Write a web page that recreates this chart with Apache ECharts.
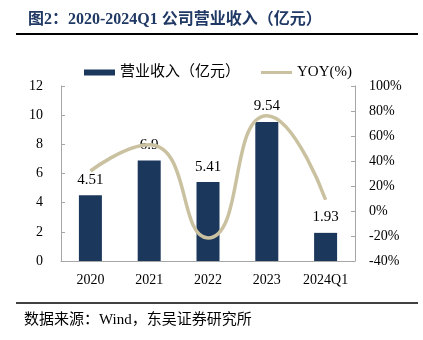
<!DOCTYPE html>
<html>
<head>
<meta charset="utf-8">
<script src="https://cdn.jsdelivr.net/npm/echarts@6/dist/echarts.min.js"></script>
<style>
  html, body { margin: 0; padding: 0; background: #fff; }
  #chart { width: 423px; height: 340px; }
</style>
</head>
<body>
<div id="chart"></div>
<script>
// Revenue (亿元) and year-over-year growth (%)
const categories = ['2020', '2021', '2022', '2023', '2024Q1'];
const revenue = [4.51, 6.9, 5.41, 9.54, 1.93];
const yoy = [32, 53, -21.6, 76.3, 9];
const leftTicks = { min: 0, max: 12, interval: 2 };
const rightTicks = { min: -40, max: 100, interval: 20 };

const serif = '"Liberation Serif", "Noto Sans CJK SC", serif';
const axisGray = '#a6a6a6';

const chart = echarts.init(document.getElementById('chart'), null, { renderer: 'canvas' });
chart.setOption({
  animation: false,
  backgroundColor: '#fff',
  title: {
    text: '图2：2020-2024Q1 公司营业收入（亿元）',
    left: 23, top: 7,
    textStyle: { fontFamily: serif, fontSize: 16, fontWeight: 'bold', color: '#1f3864' }
  },
  graphic: [
    { type: 'line', shape: { x1: 16, y1: 34, x2: 418, y2: 34 }, style: { stroke: '#000', lineWidth: 2 } },
    { type: 'line', shape: { x1: 16, y1: 303, x2: 418, y2: 303 }, style: { stroke: '#000', lineWidth: 1.5 } },
    { type: 'text', left: 24, top: 313,
      style: { text: '数据来源：Wind，东吴证券研究所', font: '15px ' + serif, fill: '#000' } }
  ],
  legend: {
    top: 60, left: 79,
    itemGap: 21,
    itemWidth: 31, itemHeight: 6,
    textStyle: { fontFamily: serif, fontSize: 15, color: '#000' },
    data: [
      { name: '营业收入（亿元）', icon: 'rect' },
      { name: 'YOY(%)', icon: 'path://M0,0L31,0L31,3L0,3Z' }
    ]
  },
  grid: { left: 61, right: 68, top: 86, bottom: 79 },
  xAxis: {
    type: 'category',
    data: categories,
    axisLine: { lineStyle: { color: axisGray } },
    axisTick: { inside: true, length: 4, lineStyle: { color: axisGray } },
    axisLabel: { fontFamily: serif, fontSize: 14, color: '#000', margin: 12 }
  },
  yAxis: [
    {
      type: 'value', min: leftTicks.min, max: leftTicks.max, interval: leftTicks.interval,
      axisLine: { show: true, lineStyle: { color: axisGray } },
      axisTick: { show: true, inside: true, length: 4, lineStyle: { color: axisGray } },
      splitLine: { show: false },
      axisLabel: { fontFamily: serif, fontSize: 14, color: '#000', margin: 18 }
    },
    {
      type: 'value', min: rightTicks.min, max: rightTicks.max, interval: rightTicks.interval,
      axisLine: { show: true, lineStyle: { color: axisGray } },
      axisTick: { show: true, inside: true, length: 4, lineStyle: { color: axisGray } },
      splitLine: { show: false },
      axisLabel: { fontFamily: serif, fontSize: 14, color: '#000', margin: 14, formatter: '{value}%' }
    }
  ],
  series: [
    {
      name: '营业收入（亿元）',
      type: 'bar',
      data: revenue,
      barWidth: 23,
      itemStyle: { color: '#1b375c' },
      label: { show: true, position: 'top', distance: 8, fontFamily: serif, fontSize: 15, color: '#000' },
      z: 2
    },
    {
      name: 'YOY(%)',
      type: 'line',
      yAxisIndex: 1,
      data: yoy,
      smooth: 0.55,
      symbol: 'none',
      lineStyle: { color: '#c9c19f', width: 3.5 },
      itemStyle: { color: '#c9c19f' },
      z: 5
    }
  ]
});
</script>
</body>
</html>
